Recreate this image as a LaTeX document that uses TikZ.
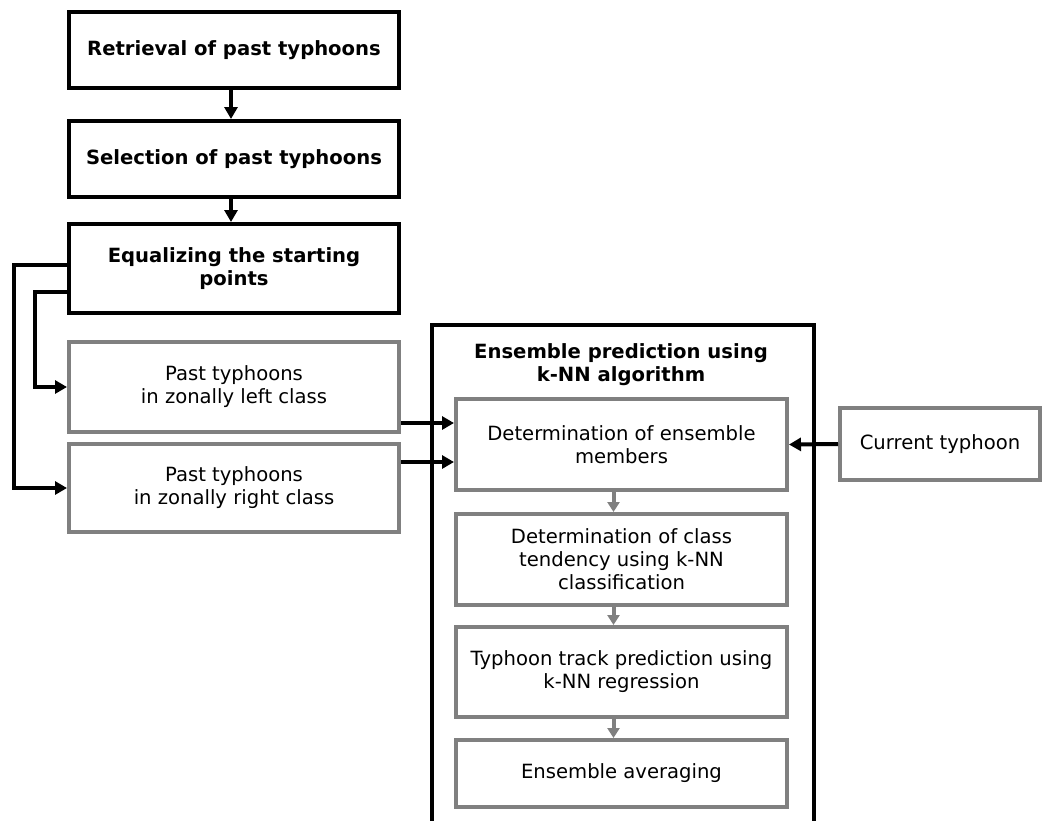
\documentclass[tikz,border=0pt]{standalone}
\usepackage{fontspec}
\setmainfont{DejaVu Sans}
\usetikzlibrary{arrows.meta}
\definecolor{boxgray}{RGB}{128,128,128}
\begin{document}
\begin{tikzpicture}[x=1pt,y=-1pt,
  every node/.style={font=\fontsize{19.6}{23}\selectfont, align=center, inner sep=0pt},
  blackbox/.style={draw=black, line width=4pt, minimum width=330pt, font=\fontsize{19.6}{23}\selectfont\bfseries},
  graybox/.style={draw=boxgray, line width=4pt, minimum width=331pt},
  arr/.style={line width=4pt, -{Triangle[length=12pt,width=13pt]}},
  garr/.style={draw=boxgray, line width=4pt, -{Triangle[length=10pt,width=12pt]}, boxgray}
]
\useasboundingbox (0,0) rectangle (1046,820);
\clip (0,0) rectangle (1046,820);
% left column
\node[blackbox, minimum height=76pt] (r1) at (234,50) {Retrieval of past typhoons};
\node[blackbox, minimum height=76pt] (r2) at (234,159) {Selection of past typhoons};
\node[blackbox, minimum height=89pt] (r3) at (234,268.5) {Equalizing the starting\\points};
\node[graybox, minimum width=330pt, minimum height=90pt] (lc) at (234,387) {Past typhoons\\in zonally left class};
\node[graybox, minimum width=330pt, minimum height=88pt] (rc) at (234,488) {Past typhoons\\in zonally right class};
% ensemble frame
\node[draw=black, line width=4pt, minimum width=382pt, minimum height=540pt, anchor=north west] (ens) at (430,323) {};
\node[font=\fontsize{19.6}{23}\selectfont\bfseries] (title) at (621,365) {Ensemble prediction using\\k-NN algorithm};
\node[graybox, minimum height=91pt] (d1) at (621.5,444.5) {Determination of ensemble\\members};
\node[graybox, minimum height=91pt] (d2) at (621.5,559.5) {Determination of class\\tendency using k-NN\\classification};
\node[graybox, minimum height=90pt] (d3) at (621.5,672) {Typhoon track prediction using\\k-NN regression};
\node[graybox, minimum height=67pt] (d4) at (621.5,773.5) {Ensemble averaging};
\node[graybox, minimum width=200pt, minimum height=72pt] (cur) at (940,444) {Current typhoon};
% connectors
\draw[arr] ([xshift=-3pt]r1.south) -- ([xshift=-3pt]r2.north);
\draw[arr] ([xshift=-3pt]r2.south) -- ([xshift=-3pt]r3.north);
\draw[arr] ([yshift=3.5pt]r3.west) -- ++(-53,0) |- (rc.west);
\draw[arr] ([yshift=-23.5pt]r3.west) -- ++(-32,0) |- (lc.west);
\draw[arr] ([yshift=-36pt]lc.east) -- ([yshift=-36pt]lc.east -| d1.west);
\draw[arr] ([yshift=26pt]rc.east) -- ([yshift=26pt]rc.east -| d1.west);
\draw[arr] (cur.west) -- (d1.east);
\draw[garr] ([xshift=-8pt]d1.south) -- ([xshift=-8pt]d2.north);
\draw[garr] ([xshift=-8pt]d2.south) -- ([xshift=-8pt]d3.north);
\draw[garr] ([xshift=-8pt]d3.south) -- ([xshift=-8pt]d4.north);
\end{tikzpicture}
\end{document}
